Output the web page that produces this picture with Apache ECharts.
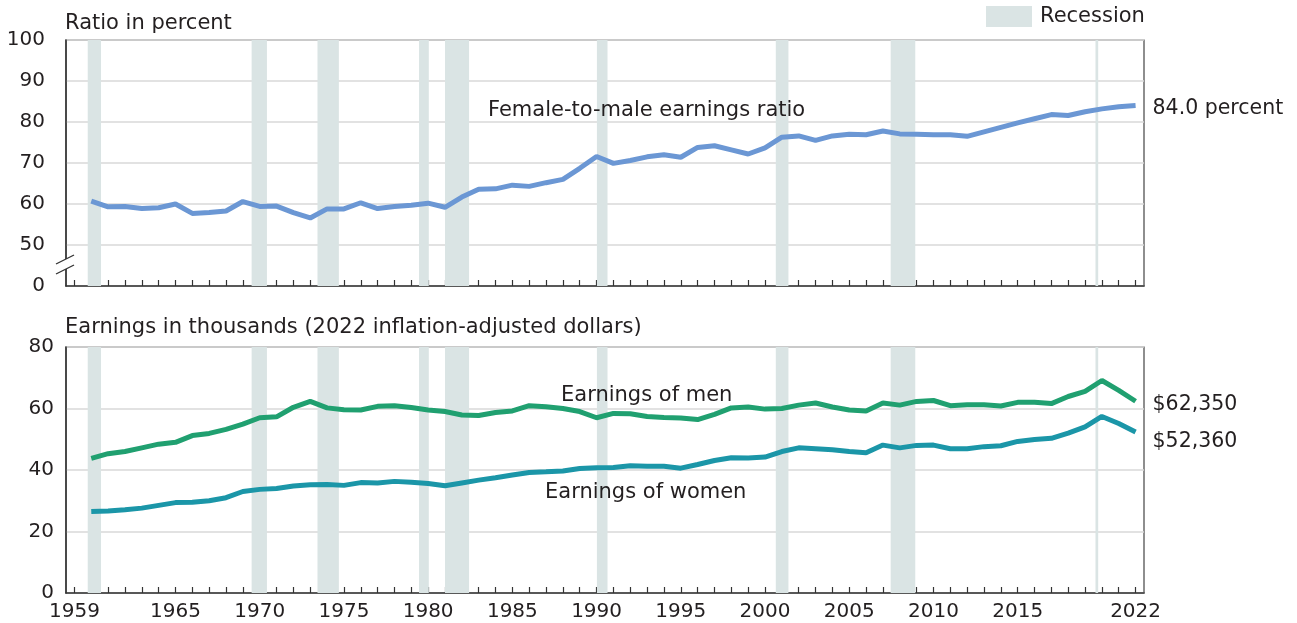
<!DOCTYPE html>
<html>
<head>
<meta charset="utf-8">
<script src="https://cdn.jsdelivr.net/npm/echarts@6/dist/echarts.min.js"></script>
<style>
  html, body { margin: 0; padding: 0; background: #fff; }
  #chart { width: 1297px; height: 623px; }
</style>
</head>
<body>
<div id="chart"></div>
<script>
// years 1960..2022
const years = Array.from({ length: 63 }, (_, i) => 1960 + i);

// female-to-male earnings ratio, percent
const ratio = [
  60.7, 59.3, 59.4, 58.9, 59.1, 60.0, 57.7, 57.9, 58.3, 60.6,
  59.4, 59.5, 57.9, 56.6, 58.8, 58.8, 60.3, 58.9, 59.4, 59.7,
  60.2, 59.2, 61.7, 63.6, 63.7, 64.6, 64.3, 65.2, 66.0, 68.7,
  71.6, 69.9, 70.6, 71.5, 72.0, 71.4, 73.8, 74.2, 73.2, 72.2,
  73.7, 76.3, 76.6, 75.5, 76.6, 77.0, 76.9, 77.8, 77.1, 77.0,
  76.9, 76.9, 76.5, 77.6, 78.7, 79.8, 80.8, 81.8, 81.6, 82.5,
  83.2, 83.7, 84.0
];

// median earnings, thousands of 2022 dollars
const men = [
  43.8, 45.3, 46.0, 47.2, 48.4, 49.0, 51.2, 51.9, 53.2, 54.9,
  57.0, 57.3, 60.4, 62.3, 60.2, 59.6, 59.5, 60.7, 60.9, 60.3,
  59.5, 59.0, 57.9, 57.7, 58.7, 59.2, 60.9, 60.6, 60.0, 59.0,
  57.0, 58.4, 58.3, 57.4, 57.1, 56.9, 56.4, 58.1, 60.2, 60.5,
  59.8, 60.0, 61.1, 61.8, 60.5, 59.5, 59.2, 61.8, 61.1, 62.3,
  62.6, 60.9, 61.2, 61.2, 60.8, 62.0, 62.0, 61.6, 63.9, 65.6,
  69.1, 65.9, 62.35
];
const women = [
  26.5, 26.7, 27.1, 27.6, 28.5, 29.4, 29.5, 30.0, 31.0, 33.0,
  33.7, 34.0, 34.8, 35.2, 35.3, 35.0, 35.9, 35.8, 36.3, 36.0,
  35.6, 34.9, 35.8, 36.7, 37.5, 38.4, 39.2, 39.4, 39.7, 40.5,
  40.7, 40.8, 41.4, 41.2, 41.2, 40.6, 41.8, 43.1, 44.0, 43.9,
  44.2, 46.0, 47.2, 46.9, 46.6, 46.0, 45.6, 48.1, 47.2, 48.0,
  48.1, 46.9, 46.9, 47.6, 47.9, 49.3, 49.9, 50.3, 52.0, 54.0,
  57.4, 55.1, 52.36
];

// recession periods (in chart year units)
const recessions = [
  [1959.79, 1960.58], [1969.52, 1970.43], [1973.43, 1974.70],
  [1979.46, 1980.04], [1981.0, 1982.43], [1990.02, 1990.65],
  [2000.64, 2001.39], [2007.46, 2008.92], [2019.62, 2019.78]
];

const tickYears = Array.from({ length: 64 }, (_, i) => 1959 + i);
const labelYears = [1959, 1965, 1970, 1975, 1980, 1985, 1990, 1995, 2000, 2005, 2010, 2015, 2022];

const FONT = 'DejaVu Sans';
const TEXT = '#231f20';
const AXIS = '#333';
const GRIDLINE = '#d9d9d9';
const RECESS = '#dae4e4';

const pairs = (vals) => years.map((y, i) => [y, vals[i]]);
const recessArea = {
  silent: true,
  itemStyle: { color: RECESS },
  data: recessions.map(r => [{ xAxis: r[0] }, { xAxis: r[1] }])
};

const xAxisBase = (gridIndex, showLabels) => ({
  type: 'value',
  gridIndex,
  min: 1958.5,
  max: 2022.5,
  axisLine: { lineStyle: { color: AXIS, width: 1.5 } },
  axisTick: {
    show: true, inside: true, length: 6,
    customValues: tickYears,
    lineStyle: { color: AXIS, width: 1.2 }
  },
  axisLabel: {
    show: showLabels,
    customValues: labelYears,
    formatter: v => String(v),
    color: TEXT, fontFamily: FONT, fontSize: 20, margin: 9
  },
  splitLine: { show: false }
});

// plain text placed by its left edge and vertical centre
const label = (text, x, y) => ({
  type: 'text', x, y, z: 100,
  style: { text, fill: TEXT, font: `21px "${FONT}"`, textVerticalAlign: 'middle' }
});

const chart = echarts.init(document.getElementById('chart'));

chart.setOption({
  animation: false,
  textStyle: { fontFamily: FONT },
  grid: [
    { left: 66, top: 40, width: 1078, height: 246, show: true, borderColor: '#444', borderWidth: 1.2 },
    { left: 66, top: 347, width: 1078, height: 246, show: true, borderColor: '#444', borderWidth: 1.2 }
  ],
  xAxis: [xAxisBase(0, false), xAxisBase(1, true)],
  yAxis: [
    {
      type: 'value', gridIndex: 0, min: 40, max: 100, interval: 10,
      axisLine: { show: true, lineStyle: { color: AXIS, width: 1.5 } },
      axisTick: { show: false },
      axisLabel: {
        color: TEXT, fontSize: 20, margin: 21,
        formatter: v => (v === 40 ? '0' : String(v))
      },
      splitLine: { lineStyle: { color: GRIDLINE, width: 1.5 } }
    },
    {
      type: 'value', gridIndex: 1, min: 0, max: 80, interval: 20,
      axisLine: { show: true, lineStyle: { color: AXIS, width: 1.5 } },
      axisTick: { show: false },
      axisLabel: { color: TEXT, fontSize: 20, margin: 12 },
      splitLine: { lineStyle: { color: GRIDLINE, width: 1.5 } }
    }
  ],
  series: [
    {
      name: 'Female-to-male earnings ratio',
      type: 'line', xAxisIndex: 0, yAxisIndex: 0,
      data: pairs(ratio),
      showSymbol: false,
      lineStyle: { color: '#6b97d4', width: 5 },
      markArea: recessArea,
      endLabel: {
        show: true, distance: 17, offset: [0, 3], color: TEXT, fontSize: 20.5,
        formatter: p => p.value[1].toFixed(1) + ' percent'
      },
      z: 3
    },
    {
      name: 'Earnings of men',
      type: 'line', xAxisIndex: 1, yAxisIndex: 1,
      data: pairs(men),
      showSymbol: false,
      lineStyle: { color: '#20a070', width: 5 },
      markArea: recessArea,
      endLabel: {
        show: true, distance: 17, offset: [0, 3], color: TEXT, fontSize: 20.5,
        formatter: p => '$' + Math.round(p.value[1] * 1000).toLocaleString('en-US')
      },
      z: 3
    },
    {
      name: 'Earnings of women',
      type: 'line', xAxisIndex: 1, yAxisIndex: 1,
      data: pairs(women),
      showSymbol: false,
      lineStyle: { color: '#1b96a8', width: 5 },
      endLabel: {
        show: true, distance: 17, offset: [0, 10], color: TEXT, fontSize: 20.5,
        formatter: p => '$' + Math.round(p.value[1] * 1000).toLocaleString('en-US')
      },
      z: 3
    }
  ],
  graphic: [
    // axis titles
    label('Ratio in percent', 65, 24),
    label('Earnings in thousands (2022 inflation-adjusted dollars)', 65, 328),
    // series names
    label('Female-to-male earnings ratio', 488, 111),
    label('Earnings of men', 561, 396),
    label('Earnings of women', 545, 493),
    // legend
    { type: 'rect', shape: { x: 986, y: 6, width: 46, height: 21 }, style: { fill: RECESS } },
    label('Recession', 1040, 17),
    // axis break
    { type: 'rect', shape: { x: 62, y: 259, width: 8, height: 10 }, style: { fill: '#fff' }, z: 100 },
    { type: 'line', shape: { x1: 56, y1: 264, x2: 74, y2: 255 }, style: { stroke: AXIS, lineWidth: 1.3 }, z: 101 },
    { type: 'line', shape: { x1: 56, y1: 274, x2: 74, y2: 265 }, style: { stroke: AXIS, lineWidth: 1.3 }, z: 101 }
  ]
});
</script>
</body>
</html>
